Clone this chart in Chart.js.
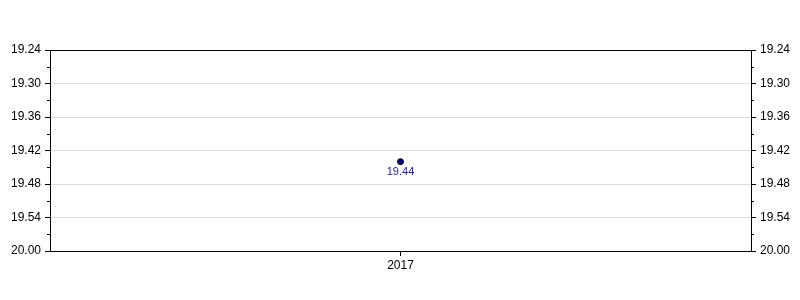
<!DOCTYPE html>
<html>
<head>
<meta charset="utf-8">
<script src="https://cdn.jsdelivr.net/npm/chart.js@4/dist/chart.umd.min.js"></script>
<style>
  html, body { margin: 0; padding: 0; background: #fff; }
  #wrap { width: 800px; height: 300px; }
</style>
</head>
<body>
<div id="wrap"><canvas id="chart"></canvas></div>
<script>
// chart data
const categories = ['2017'];
const values = [19.44];

// y axis (reversed), labels as printed on the original
const yTickValues = [19.24, 19.30, 19.36, 19.42, 19.48, 19.54, 19.60];
const yTickLabels = ['19.24', '19.30', '19.36', '19.42', '19.48', '19.54', '20.00'];

const FONT = "'Liberation Sans', Arial, sans-serif";

function buildTicks(scale) {
    const ticks = [];
    yTickValues.forEach((v, i) => {
        ticks.push({ value: v, major: true, idx: i });
        if (i < yTickValues.length - 1) {
            ticks.push({ value: (v + yTickValues[i + 1]) / 2, major: false });
        }
    });
    scale.ticks = ticks;
}

function yAxis(position) {
    return {
        position: position,
        reverse: true,
        min: yTickValues[0],
        max: yTickValues[yTickValues.length - 1],
        afterBuildTicks: buildTicks,
        afterFit: s => { s.width = position === 'left' ? 50 : 49; },
        border: { display: true, color: '#000', width: 1 },
        grid: {
            drawOnChartArea: position === 'left',
            color: ctx => {
                if (!ctx.tick) return 'transparent';
                if (ctx.tick.value === yTickValues[0]) return '#000';
                return ctx.tick.major ? '#dcdcdc' : 'rgba(0,0,0,0)';
            },
            tickColor: ctx => (ctx.tick && ctx.tick.major ? '#000' : 'rgba(0,0,0,0)'),
            tickLength: 5
        },
        ticks: {
            autoSkip: false,
            padding: 4,
            color: '#000',
            font: { family: FONT, size: 12 },
            callback: function (val, i, ticks) {
                const t = ticks[i];
                return t.major ? yTickLabels[t.idx] : '';
            }
        }
    };
}

// minor tick marks and point value labels
const extras = {
    id: 'extras',
    afterDraw(chart) {
        const ctx = chart.ctx;
        ctx.save();
        ctx.strokeStyle = '#000';
        ctx.lineWidth = 1;
        ['y', 'y2'].forEach(id => {
            const s = chart.scales[id];
            s.ticks.forEach(t => {
                if (t.major) return;
                const py = Math.round(s.getPixelForValue(t.value)) + 0.5;
                ctx.beginPath();
                if (id === 'y') {
                    ctx.moveTo(s.right - 3, py);
                    ctx.lineTo(s.right, py);
                } else {
                    ctx.moveTo(s.left, py);
                    ctx.lineTo(s.left + 3, py);
                }
                ctx.stroke();
            });
        });
        const meta = chart.getDatasetMeta(0);
        ctx.fillStyle = '#1a1aa0';
        ctx.font = '11px ' + FONT;
        ctx.textAlign = 'center';
        ctx.textBaseline = 'top';
        meta.data.forEach((pt, i) => {
            ctx.fillText(values[i].toFixed(2), pt.x, pt.y + 5);
        });
        ctx.restore();
    }
};

new Chart(document.getElementById('chart'), {
    type: 'line',
    data: {
        labels: categories,
        datasets: [{
            data: values,
            yAxisID: 'y',
            borderColor: '#000',
            backgroundColor: '#000080',
            pointBackgroundColor: '#00008b',
            pointBorderColor: '#000',
            pointBorderWidth: 1,
            pointRadius: 3,
            showLine: false
        }]
    },
    options: {
        responsive: true,
        maintainAspectRatio: false,
        animation: false,
        layout: { padding: { top: 50, left: 0, right: 0, bottom: 0 } },
        plugins: {
            legend: { display: false },
            tooltip: { enabled: false }
        },
        scales: {
            x: {
                offset: true,
                afterFit: s => { s.height = 49; },
                border: { display: true, color: '#000', width: 1 },
                grid: {
                    offset: false,
                    drawOnChartArea: false,
                    tickColor: '#000',
                    tickLength: 5
                },
                ticks: {
                    padding: 2,
                    color: '#000',
                    font: { family: FONT, size: 12 }
                }
            },
            y: yAxis('left'),
            y2: yAxis('right')
        }
    },
    plugins: [extras]
});
</script>
</body>
</html>
